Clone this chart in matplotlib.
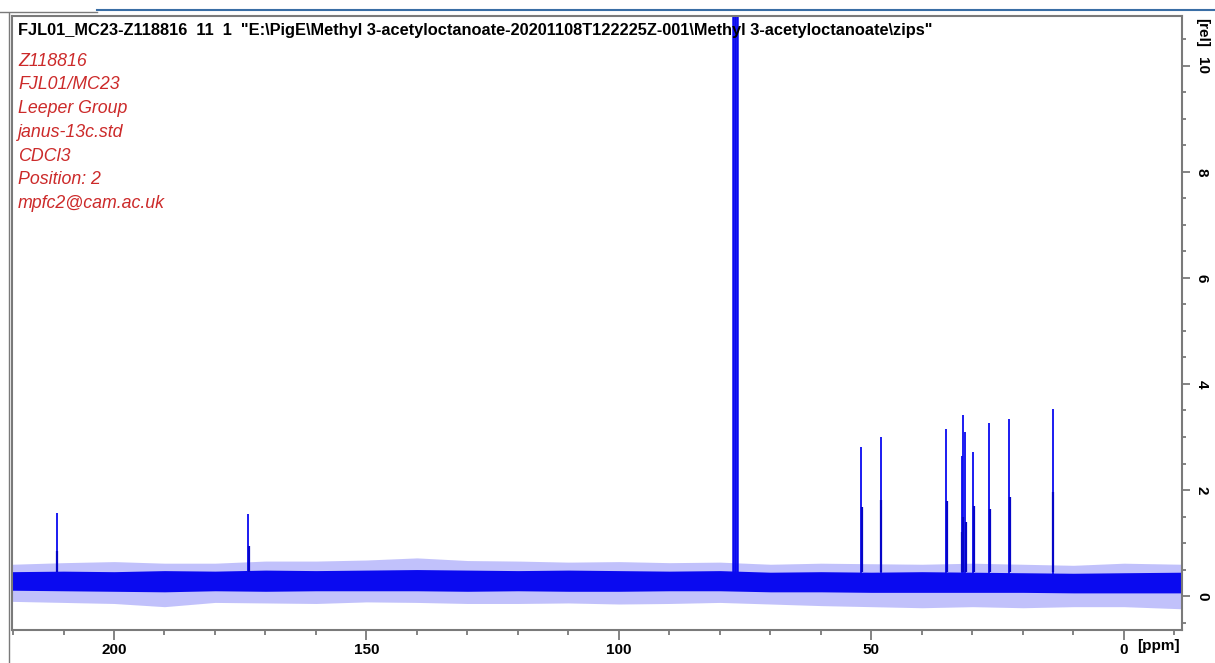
import matplotlib
import numpy as np

matplotlib.use("Agg")
import matplotlib.pyplot as plt  # noqa: E402
from matplotlib.lines import Line2D  # noqa: E402
from matplotlib.ticker import MultipleLocator  # noqa: E402

# 13C peaks (ppm, relative intensity)
peak_ppm = [211.3, 173.4, 52.0, 48.2, 35.2, 32.1, 31.9, 31.4, 29.8, 26.7, 22.7, 14.1]
peak_height = [1.57, 1.55, 2.81, 3.00, 3.15, 2.64, 3.41, 3.09, 2.72, 3.26, 3.34, 3.53]
# neighbouring data point on each peak (the thicker lower part of the line)
shoulder_ppm = [211.2, 173.3, 51.9, 48.1, 35.1, 32.0, 31.8, 31.3, 29.7, 26.6, 22.6, 14.0]
shoulder_height = [0.85, 0.95, 1.68, 1.81, 1.79, 1.2, 1.5, 1.4, 1.70, 1.64, 1.87, 1.96]

# CDCl3 solvent triplet, runs off the top of the plot
solvent_ppm = [77.36, 77.04, 76.72]
solvent_height = [12.0, 12.0, 12.0]

# noise band envelope (dense core and sparse spikes) sampled along the axis
noise_ppm = [220.2, 210, 200, 190, 180, 170, 160, 150, 140, 130, 120, 110, 100,
             90, 80, 70, 60, 50, 40, 30, 20, 10, 0, -11.5]
dense_hi = [0.46, 0.47, 0.46, 0.48, 0.47, 0.49, 0.48, 0.49, 0.50, 0.49, 0.48, 0.49, 0.48,
            0.47, 0.48, 0.45, 0.46, 0.45, 0.46, 0.45, 0.44, 0.43, 0.44, 0.45]
dense_lo = [0.11, 0.10, 0.09, 0.08, 0.10, 0.09, 0.10, 0.10, 0.10, 0.09, 0.10, 0.09, 0.09,
            0.10, 0.10, 0.08, 0.08, 0.07, 0.07, 0.07, 0.07, 0.06, 0.06, 0.06]
spike_hi = [0.60, 0.63, 0.65, 0.62, 0.62, 0.66, 0.66, 0.68, 0.72, 0.67, 0.66, 0.64, 0.65,
            0.63, 0.64, 0.60, 0.62, 0.61, 0.60, 0.62, 0.60, 0.58, 0.62, 0.60]
spike_lo = [-0.10, -0.12, -0.14, -0.20, -0.12, -0.13, -0.14, -0.11, -0.12, -0.14, -0.14,
            -0.13, -0.15, -0.14, -0.12, -0.15, -0.18, -0.20, -0.22, -0.20, -0.22, -0.20,
            -0.20, -0.24]
peak_base = 0.3
shoulder_base = 0.45

title = ('FJL01_MC23-Z118816  11  1  "E:\\PigE\\Methyl 3-acetyloctanoate-20201108T122225Z-001'
         '\\Methyl 3-acetyloctanoate\\zips"')
info_lines = ["Z118816", "FJL01/MC23", "Leeper Group", "janus-13c.std",
              "CDCl3", "Position: 2", "mpfc2@cam.ac.uk"]

BLUE = "#0a0af0"
GRAY = "#7a7a7a"
FONT = "Liberation Sans"
PX = 72 / 100  # points per pixel at dpi 100

W, H = 1215, 663
fig = plt.figure(figsize=(W / 100, H / 100), dpi=100)
ax = fig.add_axes([12 / W, 1 - 630 / H, (1182 - 12) / W, (630 - 16) / H])

ax.fill_between(noise_ppm, spike_lo, spike_hi, color=BLUE, alpha=0.25, lw=0)
ax.fill_between(noise_ppm, dense_lo, dense_hi, color=BLUE, lw=0)
ax.vlines(peak_ppm, peak_base, peak_height, color=BLUE, lw=1.3)
ax.vlines(shoulder_ppm, shoulder_base, shoulder_height, color="#0606c8", lw=1.6)
ax.vlines(solvent_ppm, peak_base, solvent_height, color=BLUE, lw=1.8)

ax.set_xlim(220.2, -11.5)
ax.set_ylim(-0.64, 10.94)

for side in ax.spines.values():
    side.set_color(GRAY)
    side.set_linewidth(1.5)

ax.xaxis.set_major_locator(MultipleLocator(50))
ax.xaxis.set_minor_locator(MultipleLocator(10))
ax.yaxis.set_major_locator(MultipleLocator(2))
ax.yaxis.set_minor_locator(MultipleLocator(0.5))
ax.tick_params(axis="x", which="major", direction="out", length=10 * PX, width=1.3,
               color=GRAY, pad=2)
ax.tick_params(axis="x", which="minor", direction="out", length=5 * PX, width=1.3,
               color=GRAY)
ax.tick_params(axis="y", which="both", left=False, right=True, labelleft=False,
               labelright=True, direction="out", color=GRAY, width=1.3)
ax.tick_params(axis="y", which="major", length=8 * PX, pad=5 * PX)
ax.tick_params(axis="y", which="minor", length=4 * PX)

for lab in ax.get_xticklabels():
    lab.set_fontfamily(FONT)
    lab.set_fontweight("bold")
    lab.set_fontsize(11)
for lab in ax.get_yticklabels():
    lab.set_fontfamily(FONT)
    lab.set_fontweight("bold")
    lab.set_fontsize(11)
    lab.set_rotation(-90)
    lab.set_va("center")

ax.text(1.011, 10.62, "[rel]", transform=ax.get_yaxis_transform(), rotation=-90,
        ha="left", va="center", fontsize=11, fontweight="bold", family=FONT)
fig.text(1158 / W, 1 - 646 / H, "[ppm]", ha="center", va="center", fontsize=11,
         fontweight="bold", family=FONT)

fig.text(18 / W, 1 - 31 / H, title, ha="left", va="center", fontsize=11.8,
         fontweight="bold", family=FONT, color="black")
for i, line in enumerate(info_lines):
    fig.text(18 / W, 1 - (61 + 23.8 * i) / H, line, ha="left", va="center",
             fontsize=12.8, style="italic", family=FONT, color="#cc2a2a")

# window border lines around the plot area
fig.add_artist(Line2D([97 / W, 1], [1 - 10 / H, 1 - 10 / H], color="#3a6ea5", lw=1.5))
fig.add_artist(Line2D([0, 97 / W], [1 - 12 / H, 1 - 12 / H], color=GRAY, lw=1.0))
fig.add_artist(Line2D([9 / W, 9 / W], [0, 1 - 13 / H], color=GRAY, lw=1.0))

fig.savefig("out.png", dpi=100)
